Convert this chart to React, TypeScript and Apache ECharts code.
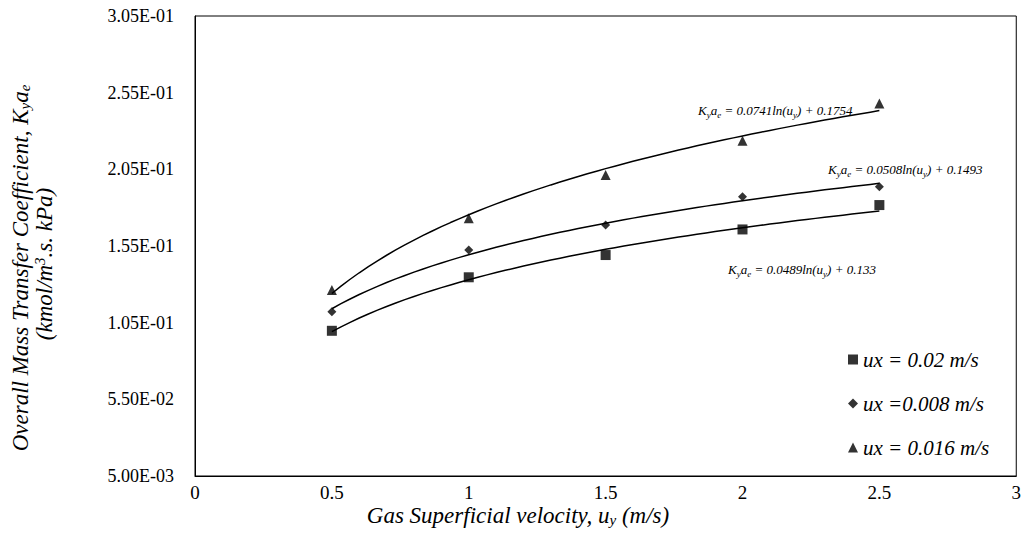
import React, { useEffect, useRef } from "react";
import * as echarts from "echarts";

const X_VALUES = [0.5, 1, 1.5, 2, 2.5];
const SERIES_NAMES = ["ux = 0.02 m/s", "ux =0.008 m/s", "ux = 0.016 m/s"];
const UX_002 = [0.0997, 0.1346, 0.1491, 0.1658, 0.1817];
const UX_0008 = [0.1121, 0.1524, 0.1687, 0.1871, 0.1937];
const UX_0016 = [0.1263, 0.1731, 0.2013, 0.2236, 0.248];
const TREND_SLOPES = [0.0489, 0.0508, 0.0741];
const TREND_INTERCEPTS = [0.133, 0.1493, 0.1754];
const TREND_LABELS = ["0.0489ln(u", "0.0508ln(u", "0.0741ln(u"];
const TREND_TAILS = [") + 0.133", ") + 0.1493", ") + 0.1754"];
const Y_TICKS_MIN = 0.005;
const Y_TICKS_MAX = 0.305;
const Y_INTERVAL = 0.05;

const FONT = "Liberation Serif";

function fmtSci(v: number): string {
  const s = v.toExponential(2);
  const [m, e] = s.split("e");
  const n = parseInt(e, 10);
  const sign = n < 0 ? "-" : "+";
  const abs = Math.abs(n);
  return `${m}E${sign}${abs < 10 ? "0" + abs : abs}`;
}

function trendPoints(i: number): number[][] {
  const pts: number[][] = [];
  const x0 = X_VALUES[0];
  const x1 = X_VALUES[X_VALUES.length - 1];
  const n = 60;
  for (let k = 0; k <= n; k++) {
    const x = x0 + ((x1 - x0) * k) / n;
    pts.push([x, TREND_SLOPES[i] * Math.log(x) + TREND_INTERCEPTS[i]]);
  }
  return pts;
}

function eqText(i: number): string {
  return `{i|K}{s|y}{i|a}{s|e}{i| = ${TREND_LABELS[i]}}{s|y}{i|${TREND_TAILS[i]}}`;
}

const eqRich = {
  i: { fontFamily: FONT, fontStyle: "italic", fontSize: 13, lineHeight: 17, fill: "#000" },
  s: { fontFamily: FONT, fontStyle: "italic", fontSize: 9, lineHeight: 10, verticalAlign: "bottom", fill: "#000" },
};

export default function App() {
  const ref = useRef<HTMLDivElement>(null);
  useEffect(() => {
    if (!ref.current) return;
    const chart = echarts.init(ref.current, undefined, { renderer: "svg" });
    const seriesData = [UX_002, UX_0008, UX_0016];
    const symbols = ["rect", "diamond", "triangle"];
    const sizes = [10, 9, 10];
    const scatter = seriesData.map((arr, i) => ({
      name: SERIES_NAMES[i],
      type: "scatter",
      symbol: symbols[i],
      symbolSize: sizes[i],
      itemStyle: { color: "#000" },
      data: arr.map((v, j) => [X_VALUES[j], v]),
      z: 3,
    }));
    const trends = [0, 1, 2].map((i) => ({
      name: "trend" + i,
      type: "line",
      showSymbol: false,
      symbol: "none",
      smooth: false,
      lineStyle: { color: "#000", width: 1.5 },
      data: trendPoints(i),
      z: 2,
      silent: true,
    }));
    const eqPos = [
      [728, 272],
      [828, 172],
      [698, 113],
    ];
    const titleRich = {
      i: { fontFamily: FONT, fontStyle: "italic", fontSize: 23, lineHeight: 24, fill: "#000" },
      s: { fontFamily: FONT, fontStyle: "italic", fontSize: 15, lineHeight: 13, verticalAlign: "bottom", fill: "#000" },
      p: { fontFamily: FONT, fontStyle: "italic", fontSize: 15, lineHeight: 13, verticalAlign: "top", fill: "#000" },
    };
    chart.setOption({
      animation: false,
      backgroundColor: "#fff",
      grid: {
        left: 195,
        right: 5,
        top: 16,
        bottom: 68,
        show: true,
        borderColor: "#000",
        borderWidth: 1,
        containLabel: false,
      },
      xAxis: {
        type: "value",
        min: 0,
        max: 3,
        interval: 0.5,
        axisLine: { show: true, lineStyle: { color: "#000", width: 1 } },
        axisTick: { show: false },
        splitLine: { show: false },
        axisLabel: { color: "#000", fontFamily: FONT, fontSize: 19, margin: 7 },
      },
      yAxis: {
        type: "value",
        min: Y_TICKS_MIN,
        max: Y_TICKS_MAX,
        interval: Y_INTERVAL,
        axisLine: { show: true, lineStyle: { color: "#000", width: 1 } },
        axisTick: { show: false },
        splitLine: { show: false },
        axisLabel: {
          color: "#000",
          fontFamily: FONT,
          fontSize: 18,
          margin: 21,
          formatter: (v: number) => fmtSci(v),
        },
      },
      legend: {
        orient: "vertical",
        left: 843,
        top: 344,
        itemWidth: 10,
        itemHeight: 10,
        itemGap: 23,
        data: SERIES_NAMES.map((n, i) => ({ name: n, icon: symbols[i] })),
        textStyle: { color: "#000", fontFamily: FONT, fontStyle: "italic", fontSize: 21 },
      },
      graphic: [
        ...[0, 1, 2].map((i) => ({
          type: "text",
          left: eqPos[i][0],
          top: eqPos[i][1] - 9,
          style: { text: eqText(i), rich: eqRich },
          z: 10,
        })),
        {
          type: "text",
          x: 518,
          y: 515,
          style: {
            text: "{i|Gas Superficial velocity, u}{s|y}{i| (m/s)}",
            align: "center",
            verticalAlign: "middle",
            rich: titleRich,
          },
        },
        {
          type: "text",
          x: 20,
          y: 268,
          rotation: Math.PI / 2,
          style: {
            text: "{i|Overall Mass Transfer Coefficient, K}{s|y}{i|a}{s|e}",
            align: "center",
            verticalAlign: "middle",
            rich: titleRich,
          },
        },
        {
          type: "text",
          x: 44,
          y: 264,
          rotation: Math.PI / 2,
          style: {
            text: "{i|(kmol/m}{p|3}{i|.s. kPa)}",
            align: "center",
            verticalAlign: "middle",
            rich: titleRich,
          },
        },
      ],
      series: [...trends, ...scatter],
    });
    return () => chart.dispose();
  }, []);
  return (
    <div
      ref={ref}
      style={{ position: "absolute", left: 0, top: 0, width: 1024, height: 544, background: "#fff" }}
    />
  );
}
